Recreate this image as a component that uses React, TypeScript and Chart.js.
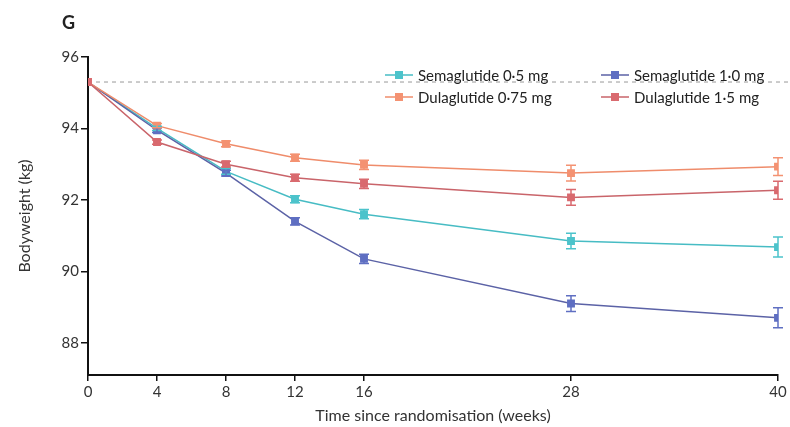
import React, { useEffect, useRef } from "react";
import { Chart, registerables } from "chart.js";

Chart.register(...registerables);

const weeks = [0, 4, 8, 12, 16, 28, 40];
const xTickValues = [0, 4, 8, 12, 16, 28, 40];
const yTickValues = [88, 90, 92, 94, 96];
const baselineWeight = 95.3;
const baselineSpan = [0, 40.8];

const sema05 = [95.3, 94.0, 92.8, 92.02, 91.6, 90.85, 90.68];
const sema10 = [95.3, 93.95, 92.75, 91.4, 90.35, 89.1, 88.7];
const dula075 = [95.3, 94.08, 93.57, 93.18, 92.98, 92.75, 92.93];
const dula15 = [95.3, 93.62, 93.0, 92.62, 92.45, 92.07, 92.27];

const sema05Err = [0, 0.06, 0.08, 0.1, 0.13, 0.22, 0.28];
const sema10Err = [0, 0.06, 0.08, 0.1, 0.13, 0.22, 0.28];
const dula075Err = [0, 0.06, 0.08, 0.1, 0.13, 0.22, 0.25];
const dula15Err = [0, 0.06, 0.08, 0.1, 0.13, 0.22, 0.25];

const seriesNames = ["Semaglutide 0·5 mg", "Semaglutide 1·0 mg", "Dulaglutide 0·75 mg", "Dulaglutide 1·5 mg"];
const seriesValues = [sema05, sema10, dula075, dula15];
const seriesErrors = [sema05Err, sema10Err, dula075Err, dula15Err];
const pointColors = ["#4cc3cb", "#5f6fc2", "#f49272", "#d96a6f"];
const lineColors = ["#47bcc4", "#5b62a6", "#ef8c6b", "#c9646a"];

const FONT = "Lato, 'Open Sans', sans-serif";

const errorBarPlugin = {
  id: "errorBars",
  afterDatasetsDraw(chart: any) {
    const ctx = chart.ctx;
    const xs = chart.scales.x;
    const ys = chart.scales.y;
    chart.data.datasets.forEach((ds: any) => {
      const errs = ds.errors;
      if (!errs) return;
      ctx.save();
      ctx.strokeStyle = ds.pointBackgroundColor;
      ctx.lineWidth = 1.5;
      ds.data.forEach((p: any, j: number) => {
        const e = errs[j];
        if (!e) return;
        const x = xs.getPixelForValue(p.x);
        const y1 = ys.getPixelForValue(p.y - e);
        const y2 = ys.getPixelForValue(p.y + e);
        ctx.beginPath();
        ctx.moveTo(x, y1);
        ctx.lineTo(x, y2);
        ctx.moveTo(x - 5, y1);
        ctx.lineTo(x + 5, y1);
        ctx.moveTo(x - 5, y2);
        ctx.lineTo(x + 5, y2);
        ctx.stroke();
      });
      ctx.restore();
    });
  },
};

const legendPlugin = {
  id: "customLegend",
  afterDraw(chart: any) {
    const ctx = chart.ctx;
    const positions = [
      { x: 385, y: 75 },
      { x: 601, y: 75 },
      { x: 385, y: 97 },
      { x: 601, y: 97 },
    ];
    ctx.save();
    ctx.font = `15px ${FONT}`;
    ctx.textBaseline = "middle";
    ctx.textAlign = "left";
    seriesNames.forEach((name, i) => {
      const p = positions[i];
      ctx.strokeStyle = lineColors[i];
      ctx.lineWidth = 1.5;
      ctx.beginPath();
      ctx.moveTo(p.x, p.y);
      ctx.lineTo(p.x + 28, p.y);
      ctx.stroke();
      ctx.fillStyle = pointColors[i];
      ctx.fillRect(p.x + 10, p.y - 4, 8, 8);
      ctx.fillStyle = "#222";
      ctx.fillText(name, p.x + 33, p.y + 1);
    });
    ctx.font = `bold 18px ${FONT}`;
    ctx.fillStyle = "#222";
    ctx.fillText("G", 62, 23);
    ctx.restore();
  },
};

export default function App() {
  const ref = useRef<HTMLCanvasElement | null>(null);

  useEffect(() => {
    if (!ref.current) return;
    const datasets: any[] = seriesNames.map((name, i) => ({
      label: name,
      data: weeks.map((w, j) => ({ x: w, y: seriesValues[i][j] })),
      errors: seriesErrors[i],
      borderColor: lineColors[i],
      backgroundColor: pointColors[i],
      pointBackgroundColor: pointColors[i],
      pointBorderColor: pointColors[i],
      pointStyle: "rect",
      pointRadius: 4.5,
      borderWidth: 1.5,
      tension: 0,
      order: 4 - i,
    }));
    datasets.unshift({
      label: "baseline",
      data: baselineSpan.map((x) => ({ x, y: baselineWeight })),
      borderColor: "#999",
      borderWidth: 1,
      borderDash: [4, 4],
      pointRadius: 0,
      clip: false,
      order: 10,
    });

    const chart = new Chart(ref.current, {
      type: "line",
      data: { datasets },
      plugins: [errorBarPlugin, legendPlugin],
      options: {
        animation: false,
        responsive: false,
        layout: { padding: { left: 0, right: 12, top: 57, bottom: 0 } },
        plugins: { legend: { display: false }, tooltip: { enabled: false } },
        scales: {
          x: {
            type: "linear",
            min: 0,
            max: 40,
            afterBuildTicks: (s: any) => {
              s.ticks = xTickValues.map((v) => ({ value: v }));
            },
            afterFit: (s: any) => {
              s.height = 52;
            },
            grid: { drawOnChartArea: false, drawTicks: true, tickLength: 6, color: "#111", lineWidth: 1.5 },
            border: { color: "#111", width: 2 },
            ticks: { font: { family: FONT, size: 15 }, color: "#333", padding: 2, maxRotation: 0 },
            title: {
              display: true,
              text: "Time since randomisation (weeks)",
              font: { family: FONT, size: 16 },
              color: "#333",
              padding: { top: 0, bottom: 2 },
            },
          },
          y: {
            type: "linear",
            min: 87.1,
            max: 96,
            afterBuildTicks: (s: any) => {
              s.ticks = yTickValues.map((v) => ({ value: v }));
            },
            afterFit: (s: any) => {
              s.width = 88;
            },
            grid: { drawOnChartArea: false, drawTicks: true, tickLength: 7, color: "#111", lineWidth: 1.5 },
            border: { color: "#111", width: 2 },
            ticks: { font: { family: FONT, size: 15 }, color: "#333", padding: 2 },
            title: {
              display: true,
              text: "Bodyweight (kg)",
              font: { family: FONT, size: 16 },
              color: "#333",
              padding: { top: 15, bottom: 8 },
            },
          },
        },
      },
    } as any);
    return () => chart.destroy();
  }, []);

  return (
    <div style={{ position: "absolute", left: 0, top: 0, width: 790, height: 427, background: "#fff" }}>
      <canvas ref={ref} width={790} height={427} style={{ display: "block" }} />
    </div>
  );
}
